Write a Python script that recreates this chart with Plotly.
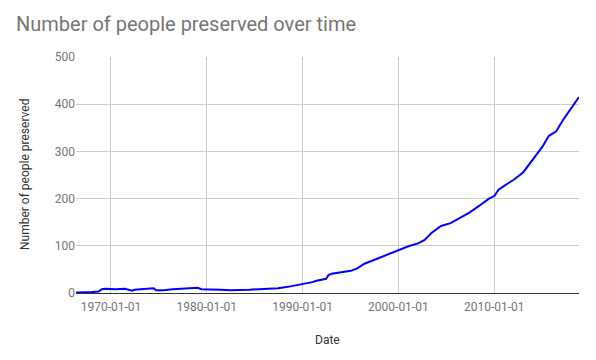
import plotly.graph_objects as go

dates = ["1966-05-08", "1967-01-15", "1968-01-15", "1968-09-15", "1969-01-15", "1969-06-15",
         "1970-06-15", "1971-06-15", "1972-03-15", "1972-06-15", "1973-06-15", "1974-06-15",
         "1974-09-15", "1975-06-15", "1976-06-15", "1977-06-15", "1978-06-15", "1979-01-15",
         "1979-06-15", "1980-06-15", "1981-06-15", "1982-06-15", "1983-06-15", "1984-06-15",
         "1985-06-15", "1986-06-15", "1987-06-15", "1988-06-15", "1989-06-15", "1990-01-15",
         "1990-06-15", "1991-01-15", "1991-06-15", "1992-01-15", "1992-06-15", "1992-09-15",
         "1993-01-15", "1994-01-15", "1995-01-15", "1995-09-15", "1996-06-15", "1997-06-15",
         "1998-06-15", "1999-01-15", "2000-01-15", "2000-06-15", "2001-01-15", "2002-01-15",
         "2002-09-15", "2003-06-15", "2004-01-15", "2004-06-15", "2005-06-15", "2006-06-15",
         "2007-06-15", "2008-06-15", "2009-06-15", "2010-01-15", "2010-06-15", "2011-01-15",
         "2012-01-15", "2013-01-15", "2014-01-15", "2015-01-15", "2015-09-15", "2016-06-15",
         "2017-03-15", "2017-09-15", "2018-04-15", "2018-10-15", "2018-11-06"]
people = [1, 1, 2, 3, 8, 9,
          8, 9, 5, 7, 8, 10,
          6, 6, 8, 9, 11, 11,
          8, 8, 7, 6, 6, 7,
          8, 9, 10, 13, 17, 19,
          20, 23, 26, 28, 30, 38,
          41, 44, 47, 52, 62, 70,
          78, 82, 90, 95, 99, 105,
          112, 127, 135, 142, 148, 159,
          171, 185, 200, 206, 219, 227,
          240, 256, 282, 310, 333, 342,
          367, 382, 401, 414, 415]

y_ticks = [0, 100, 200, 300, 400, 500]

title_text = "Number of people preserved over time"
x_title = "Date"
y_title = "Number of people preserved"

# The page body has an 8px margin, so the figure is sized to fill the rest.
W, H = 588, 352
L, R, T, B = 68, 17, 49, 67
PW, PH = W - L - R, H - T - B

fig = go.Figure()
fig.add_trace(go.Scatter(x=dates, y=people, mode="lines",
                         line=dict(color="#0000ff", width=2), showlegend=False))

fig.update_layout(
    width=W, height=H,
    margin=dict(l=L, r=R, t=T, b=B, autoexpand=False),
    paper_bgcolor="white", plot_bgcolor="white",
    font=dict(family="Roboto", size=12, color="#757575"),
    title=dict(text=title_text, x=8 / W, xref="container", xanchor="left",
               y=1 - 16 / H, yref="container", yanchor="middle",
               font=dict(family="Roboto", size=20, color="#757575")),
    xaxis=dict(range=["1966-05-08", "2018-11-08"], type="date",
               tick0="1970-01-01", dtick="M120", tickformat="%Y-%m-%d",
               showgrid=True, gridcolor="#cccccc", gridwidth=1,
               showline=True, linecolor="#333333", linewidth=1,
               zeroline=False, ticks="", ticklabelstandoff=3,
               tickfont=dict(size=12, color="#757575")),
    yaxis=dict(range=[0, 500], tickvals=y_ticks, ticktext=[str(v) for v in y_ticks],
               showgrid=True, gridcolor="#cccccc", gridwidth=1,
               zeroline=False, showline=False, ticks="",
               tickfont=dict(size=12, color="#757575")),
    annotations=[
        dict(text=x_title, xref="paper", x=0.5, yref="paper", y=-(340 - 293) / PH,
             yanchor="middle", showarrow=False, font=dict(size=12, color="#333333")),
        dict(text=y_title, xref="paper", x=-(76 - 25) / PW, xanchor="center",
             yref="paper", y=0.5, showarrow=False, textangle=-90,
             font=dict(size=12, color="#333333")),
    ],
)

fig.write_html("out.html")
